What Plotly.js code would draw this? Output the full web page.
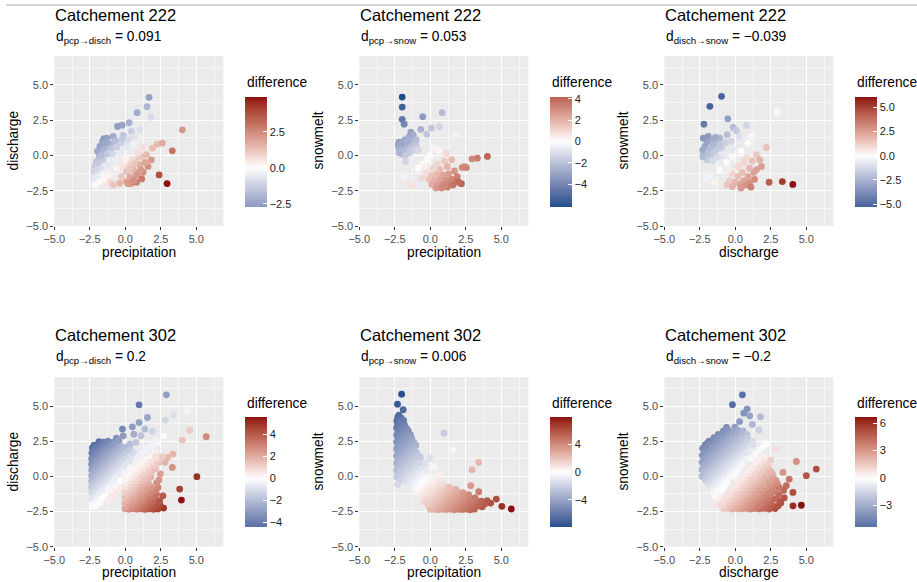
<!DOCTYPE html>
<html>
<head>
<meta charset="utf-8">
<script src="https://cdn.plot.ly/plotly-3.0.1.min.js"></script>
<style>
  html, body { margin: 0; padding: 0; background: #ffffff; }
  #chart { width: 917px; height: 582px; }
</style>
</head>
<body>
<div id="chart"></div>
<script>
// ---- Observations: [x, y] pairs per panel -------------------------------

// Catchment 222: precipitation (x) vs discharge (y)
const c222PcpDisch = [
  [1.67,4.12],[1.53,3.46],[0.83,3.03],[1.79,2.72],[0.27,2.32],[-0.22,2.15],[-0.55,2.06],[-0.15,1.42],
  [-0.85,1.35],[0.43,1.70],[1.02,1.82],[-1.5,1.2],[-1.3,1.23],[-1.6,0.99],[-0.67,1.04],[-1.04,0.80],
  [-1.79,0.64],[-1.44,0.52],[-1.67,0.28],[-1.84,-0.07],[-2.02,-0.43],[-2.14,-0.78],[-2.21,-1.14],
  [-2.26,-1.61],[-2.14,-2.09],[-1.79,-1.85],[-1.2,-1.38],[-1.09,-1.9],[-0.62,-0.9],[-0.85,-0.31],
  [-0.39,0.16],[0.08,0.64],[0.55,0.87],[-1.2,0.9],[-1.0,0.5],[-0.6,0.6],[-0.3,0.9],[-0.9,0.1],
  [-1.3,0.1],[-1.55,-0.3],[-1.75,-0.9],[-1.95,-1.4],[-1.6,-1.3],[-1.3,-0.7],[-0.7,-0.3],[-1.95,0.3],
  [-1.7,0.0],[-1.45,0.85],[-0.2,1.2],[0.6,1.35],[0.2,1.1],[-1.9,-0.5],[-1.5,-1.7],[-2.0,-1.0],
  [1.25,0.57],[1.91,0.52],[2.24,0.80],[2.61,0.87],[4.02,1.82],[3.31,0.33],[1.60,-0.78],[1.14,-0.07],
  [0.79,-0.31],[0.32,-0.55],[-0.15,-0.78],[0.08,-1.14],[0.55,-1.02],[1.02,-0.67],[1.25,-1.19],
  [0.79,-1.38],[0.32,-1.5],[0.08,-1.85],[0.43,-1.97],[0.79,-1.9],[1.16,-1.66],[2.38,-1.38],[2.94,-1.99],
  [-0.27,-1.5],[-0.39,-1.97],[-0.85,-2.09],[1.49,0.05],[1.84,-0.31],[0.2,-2.0],[0.6,-1.75],[0.95,-1.2],
  [0.5,-0.3],[0.9,0.2],[1.4,-0.5],[0.0,-0.3],[0.3,-0.9],[0.65,-0.6],[1.1,-1.0]
];

// Catchment 222: precipitation (x) vs snowmelt (y)
const c222PcpSnow = [
  [-1.98,4.14],[-1.98,3.43],[-1.98,2.56],[-1.84,2.22],[-0.53,2.75],[0.83,3.03],[-0.67,1.85],[0.08,1.94],
  [0.64,2.03],[-0.25,1.51],[-1.37,1.66],[-1.2,1.45],[-1.5,1.3],[-1.8,1.1],[-2.2,0.95],[-2.26,0.75],
  [-2.2,0.5],[-2.1,0.3],[-2.0,0.1],[-1.9,0.6],[-1.7,0.8],[-1.6,0.4],[-1.45,0.2],[-1.3,0.6],[-1.2,0.9],
  [-1.0,0.75],[-1.1,0.4],[-1.6,1.0],[-1.9,0.35],[-2.2,0.2],[-1.75,0.0],[-1.74,-0.43],[-2.05,0.85],
  [-1.45,1.2],[-1.0,1.1],[-0.85,0.4],
  [0.27,0.52],[1.14,0.16],[1.84,1.47],[-0.85,-0.9],[-1.86,-1.5],[-1.32,-2.09],[-0.5,-0.6],[0.0,0.0],
  [0.6,0.35],[-0.2,-0.3],[-1.2,-0.6],
  [4.02,-0.07],[3.31,-0.19],[2.94,-0.24],[2.54,-0.86],[2.24,-0.86],[2.4,-0.8],[1.5,-0.3],[1.0,-0.4],
  [0.5,-0.6],[0.2,-0.9],[0.7,-1.0],[1.2,-0.8],[1.7,-1.1],[-0.3,-1.2],[0.1,-1.4],[0.5,-1.3],[0.9,-1.4],
  [1.3,-1.3],[1.9,-1.5],[-0.1,-1.7],[0.3,-1.75],[0.7,-1.7],[1.1,-1.75],[1.5,-1.7],[1.85,-1.85],
  [2.19,-2.0],[0.1,-2.05],[0.5,-2.1],[0.9,-2.05],[1.3,-2.0],[1.6,-2.1],[0.4,-2.3],[0.8,-2.3],
  [1.2,-2.25],[-0.4,-0.8],[-0.6,-1.6],[2.0,-1.9],[1.0,-2.15]
];

// Catchment 222: discharge (x) vs snowmelt (y)
const c222DischSnow = [
  [-0.97,4.19],[-1.79,3.48],[-2.21,2.22],[-0.53,2.6],[2.94,3.08],[-0.15,1.99],[0.08,1.75],[0.78,2.13],
  [1.14,1.35],[-0.57,1.47],[-1.09,1.23],[-2.26,1.23],[-1.91,1.35],[-1.56,1.11],[-1.2,0.87],[-2.14,0.64],
  [-1.79,0.4],[-1.32,0.4],[-0.97,0.52],[-2.26,0.16],[-1.67,0.05],[-0.85,-0.07],[-2.0,0.95],[-1.6,0.75],
  [-1.4,1.3],[-2.3,0.4],[-1.9,0.1],[-1.5,0.2],[-1.1,0.7],[-0.7,0.9],[-1.25,-0.1],[-2.0,-0.3],
  [-1.6,-0.4],[-2.3,-0.1],[-0.3,1.0],[0.3,1.3],[-0.2,0.5],
  [0.9,0.87],[2.19,0.57],[1.49,0.05],[1.72,-0.31],[1.84,-0.78],[-2.02,-1.61],[-1.79,-1.38],
  [-1.09,-1.02],[-1.5,-1.9],[-0.6,-0.5],[-0.2,-0.1],[0.4,0.3],
  [2.38,-1.9],[3.31,-1.85],[4.05,-2.05],[1.3,-1.2],[1.0,-0.9],[0.6,-0.5],[0.2,-0.8],[0.5,-1.2],
  [0.9,-1.5],[1.35,-1.7],[-0.2,-1.3],[0.2,-1.5],[0.6,-1.8],[1.0,-1.95],[-0.4,-1.8],[0.0,-1.9],
  [0.35,-2.05],[0.75,-2.1],[-0.6,-2.1],[-0.2,-2.2],[1.2,-0.4],[0.8,-0.2],[1.5,-1.0],[-0.5,-1.0],
  [0.4,-2.3],[1.1,-2.25]
];

// Catchment 302: precipitation (x) vs discharge (y)
const c302PcpDisch = [
  [2.89,5.8],[0.97,5.09],[4.34,4.67],[3.41,4.38],[2.82,4.0],[1.56,4.19],[0.97,3.83],[0.5,3.53],
  [-0.2,3.37],[1.37,3.37],[4.53,3.29],[5.7,2.82],[4.02,2.58],[2.7,2.89],[3.36,1.59],[3.0,1.35],
  [3.31,0.64],[2.47,0.17],[5.04,-0.02],[3.83,-0.9],[3.95,-1.68],[2.7,-2.25],[2.65,-1.38],[2.3,-0.79],
  [2.37,-0.26],[-0.15,2.89],[-0.62,2.73],[0.32,2.3],[0.74,2.42],[1.1,2.9],[0.6,3.0],[1.9,3.2],
  [2.2,2.4],[2.1,1.7],[2.8,1.0],
  [-1.85,2.47],[-1.55,2.43],[-1.22,2.5],[-0.85,2.44],
  [-2.2,2.22],[-1.95,2.28],[-1.68,2.21],[-1.4,2.3],[-1.05,2.24],[-0.7,2.31],[-0.45,2.52],
  [-2.32,2.02],[-2.05,2.08],[-1.78,2.0],[-1.5,2.07],[-1.2,2.03],[-0.92,2.1],[-0.6,2.04],[-0.3,2.12],[0.05,2.08],
  [-2.18,1.83],[-1.9,1.88],[-1.62,1.82],[-1.33,1.9],[-1.05,1.84],[-0.75,1.87],[-0.45,1.8],[-0.15,1.9],[0.35,1.88],
  [-2.36,1.66],[-2.08,1.62],[-1.8,1.68],[-1.5,1.63],[-1.22,1.7],[-0.93,1.64],[-0.62,1.67],[-0.32,1.62],[0.05,1.7],[0.6,1.66],
  [-2.22,1.44],[-1.95,1.48],[-1.65,1.42],[-1.37,1.47],[-1.08,1.43],[-0.78,1.49],[-0.48,1.42],[-0.15,1.47],[0.3,1.44],[0.95,1.5],
  [-2.37,1.24],[-2.1,1.27],[-1.82,1.22],[-1.52,1.28],[-1.23,1.23],[-0.95,1.27],[-0.63,1.21],[-0.33,1.28],[0.0,1.22],[0.45,1.25],
  [-2.24,1.04],[-1.96,1.08],[-1.68,1.02],[-1.4,1.07],[-1.1,1.03],[-0.8,1.08],[-0.5,1.02],[-0.2,1.06],[0.2,1.04],[0.75,1.08],
  [-2.38,0.86],[-2.1,0.82],[-1.8,0.88],[-1.52,0.83],[-1.22,0.87],[-0.92,0.82],[-0.62,0.88],[-0.3,0.84],[0.1,0.86],
  [-2.25,0.64],[-1.96,0.68],[-1.66,0.62],[-1.37,0.67],[-1.06,0.63],[-0.76,0.68],[-0.45,0.62],[-0.12,0.66],[0.35,0.62],
  [-2.36,0.46],[-2.08,0.42],[-1.8,0.47],[-1.5,0.43],[-1.2,0.48],[-0.9,0.42],[-0.58,0.47],[-0.25,0.44],
  [-2.22,0.24],[-1.93,0.28],[-1.64,0.22],[-1.35,0.27],[-1.04,0.23],[-0.72,0.28],[-0.4,0.22],[-0.05,0.26],
  [-2.37,0.06],[-2.08,0.02],[-1.8,0.07],[-1.5,0.03],[-1.2,0.08],[-0.88,0.02],[-0.55,0.06],
  [-2.24,-0.14],[-1.95,-0.18],[-1.65,-0.12],[-1.36,-0.17],[-1.05,-0.13],[-0.72,-0.2],[-0.35,-0.3],
  [-2.37,-0.34],[-2.08,-0.38],[-1.8,-0.33],[-1.5,-0.37],[-1.2,-0.36],[-0.88,-0.42],
  [-2.25,-0.54],[-1.96,-0.58],[-1.66,-0.53],[-1.36,-0.6],[-1.05,-0.66],[-0.6,-0.72],
  [-2.38,-0.74],[-2.1,-0.78],[-1.8,-0.76],[-1.5,-0.82],[-1.2,-0.92],
  [-2.24,-0.96],[-1.95,-0.98],[-1.65,-1.04],[-0.9,-1.15],
  [-2.37,-1.14],[-2.08,-1.18],[-1.8,-1.24],[-1.45,-1.36],
  [-2.25,-1.38],[-1.95,-1.46],[-1.65,-1.58],
  [-2.36,-1.62],[-2.08,-1.72],[-1.8,-1.86],
  [-2.25,-1.92],[-2.0,-2.05],[-2.3,-2.15],
  [-1.2,-1.6],[-0.9,-1.4],[-0.6,-1.1],[-0.35,-0.8],
  [-0.02,-2.3],[0.27,-2.34],[0.55,-2.29],[0.83,-2.33],[1.12,-2.3],[1.4,-2.35],[1.7,-2.3],[1.98,-2.34],[2.3,-2.31],
  [0.12,-2.12],[0.4,-2.1],[0.68,-2.14],[0.97,-2.09],[1.25,-2.13],[1.55,-2.1],[1.83,-2.15],[2.12,-2.1],[2.45,-2.05],
  [-0.03,-1.93],[0.25,-1.9],[0.53,-1.95],[0.82,-1.91],[1.1,-1.94],[1.38,-1.89],[1.68,-1.93],[1.96,-1.9],[2.28,-1.95],
  [0.1,-1.72],[0.38,-1.7],[0.66,-1.74],[0.95,-1.69],[1.24,-1.73],[1.52,-1.7],[1.82,-1.74],[2.12,-1.68],[2.42,-1.75],
  [-0.02,-1.52],[0.26,-1.5],[0.55,-1.54],[0.83,-1.49],[1.12,-1.53],[1.4,-1.5],[1.7,-1.55],[2.0,-1.48],
  [0.12,-1.32],[0.4,-1.3],[0.68,-1.34],[0.97,-1.29],[1.26,-1.33],[1.55,-1.3],[1.86,-1.35],[2.2,-1.28],
  [-0.03,-1.12],[0.25,-1.1],[0.54,-1.14],[0.83,-1.09],[1.12,-1.13],[1.42,-1.1],[1.72,-1.15],[2.05,-1.08],
  [0.1,-0.92],[0.38,-0.9],[0.67,-0.94],[0.96,-0.89],[1.25,-0.93],[1.56,-0.9],[1.9,-0.95],
  [-0.02,-0.72],[0.27,-0.7],[0.55,-0.74],[0.85,-0.69],[1.14,-0.73],[1.45,-0.7],[1.78,-0.75],
  [0.12,-0.52],[0.4,-0.5],[0.7,-0.54],[1.0,-0.49],[1.3,-0.53],[1.62,-0.5],[2.2,-0.48],
  [-0.02,-0.32],[0.27,-0.3],[0.56,-0.34],[0.86,-0.29],[1.17,-0.33],[1.5,-0.28],
  [0.15,-0.12],[0.44,-0.1],[0.74,-0.14],[1.05,-0.09],[1.38,-0.12],[1.8,-0.05],
  [0.3,0.1],[0.6,0.06],[0.9,0.1],[1.22,0.07],[1.58,0.12],
  [0.48,0.32],[0.78,0.28],[1.1,0.33],[1.42,0.29],[1.85,0.35],
  [0.75,0.52],[1.05,0.5],[1.38,0.54],[1.72,0.48],[2.1,0.55],
  [0.98,0.74],[1.3,0.7],[1.65,0.76],[2.0,0.72],
  [1.25,0.96],[1.58,0.93],[1.95,1.0],[2.35,0.98],
  [1.5,1.22],[1.85,1.18],[2.25,1.25],
  [1.78,1.48],[2.15,1.42],[2.6,1.4],
  [1.2,1.62],[1.5,1.88],[1.8,2.15],[2.1,2.48],[0.85,1.3]
];

// Catchment 302: precipitation (x) vs snowmelt (y)
const c302PcpSnow = [
  [-2.02,5.85],[-2.31,5.14],[-1.91,4.74],[-2.21,4.36],[0.97,3.08],[1.6,1.89],[-0.67,1.35],[-0.03,1.28],
  [0.27,0.64],[3.41,0.99],[2.94,0.47],[2.84,-0.66],[3.41,-1.09],[4.65,-1.61],[5.04,-2.13],[5.70,-2.32],
  [4.25,-1.9],[3.83,-1.97],[-0.4,0.9],[0.6,0.1],
  [-2.3,4.22],[-2.05,4.15],
  [-2.36,3.95],[-2.12,3.9],[-1.88,3.98],
  [-2.3,3.7],[-2.06,3.74],[-1.82,3.67],
  [-2.37,3.45],[-2.14,3.42],[-1.9,3.48],[-1.66,3.4],
  [-2.28,3.2],[-2.04,3.24],[-1.8,3.17],[-1.55,3.22],
  [-2.36,2.95],[-2.12,2.92],[-1.88,2.98],[-1.64,2.92],[-1.4,2.97],
  [-2.28,2.7],[-2.04,2.74],[-1.8,2.67],[-1.56,2.72],[-1.3,2.68],
  [-2.37,2.45],[-2.13,2.42],[-1.89,2.48],[-1.65,2.43],[-1.4,2.47],[-1.15,2.41],
  [-2.28,2.2],[-2.04,2.23],[-1.8,2.18],[-1.55,2.22],[-1.3,2.17],[-1.02,2.22],
  [-2.37,1.95],[-2.12,1.92],[-1.88,1.97],[-1.63,1.93],[-1.38,1.98],[-1.12,1.92],
  [-2.28,1.7],[-2.03,1.73],[-1.78,1.68],[-1.53,1.72],[-1.28,1.67],[-1.0,1.71],
  [-2.37,1.45],[-2.12,1.42],[-1.86,1.47],[-1.62,1.43],[-1.36,1.48],[-1.1,1.42],[-0.82,1.47],
  [-2.28,1.2],[-2.03,1.23],[-1.78,1.18],[-1.52,1.22],[-1.26,1.17],[-0.98,1.22],
  [-2.37,0.95],[-2.12,0.92],[-1.86,0.97],[-1.6,0.93],[-1.34,0.98],[-1.08,0.92],[-0.78,0.96],
  [-2.28,0.7],[-2.02,0.73],[-1.76,0.68],[-1.5,0.72],[-1.22,0.67],[-0.94,0.72],
  [-2.37,0.45],[-2.1,0.42],[-1.83,0.47],[-1.56,0.43],[-1.28,0.48],[-1.0,0.42],[-0.68,0.47],
  [-2.28,0.2],[-2.0,0.23],[-1.72,0.18],[-1.44,0.22],[-1.15,0.17],[-0.85,0.22],[-0.5,0.18],
  [-2.36,-0.05],[-2.05,-0.08],[-1.75,-0.03],[-1.45,-0.07],[-1.15,-0.02],[-0.85,-0.07],[-0.52,-0.03],[-0.2,-0.08],
  [-2.2,-0.3],[-1.88,-0.27],[-1.56,-0.32],[-1.24,-0.28],[-0.92,-0.33],[-0.6,-0.28],[-0.28,-0.33],[0.05,-0.3],
  [-2.3,-0.58],[-1.4,-0.55],[-1.08,-0.58],[-0.76,-0.53],[-0.44,-0.57],[-0.12,-0.54],
  [-1.0,-0.8],[-0.66,-0.83],[-0.34,-0.79],[-0.02,-0.84],
  [-0.82,-1.05],[-0.5,-1.08],[-0.18,-1.03],
  [-0.65,-1.3],[-0.33,-1.34],
  [-0.55,-1.55],[-0.22,-1.58],
  [-0.4,-1.82],[-0.15,-2.05],
  [0.0,-2.35],[0.28,-2.33],[0.56,-2.37],[0.84,-2.34],[1.12,-2.36],[1.4,-2.33],[1.68,-2.37],[1.96,-2.34],[2.24,-2.36],[2.52,-2.33],[2.8,-2.37],[3.1,-2.33],
  [0.14,-2.15],[0.42,-2.13],[0.7,-2.17],[0.98,-2.14],[1.26,-2.16],[1.54,-2.13],[1.82,-2.17],[2.1,-2.14],[2.38,-2.16],[2.66,-2.13],[2.95,-2.17],[3.3,-2.12],[3.65,-2.16],
  [-0.08,-1.95],[0.2,-1.93],[0.48,-1.97],[0.76,-1.94],[1.04,-1.96],[1.32,-1.93],[1.6,-1.97],[1.88,-1.94],[2.16,-1.96],[2.44,-1.93],[2.72,-1.97],[3.02,-1.94],[3.4,-1.97],
  [0.05,-1.75],[0.33,-1.73],[0.61,-1.77],[0.89,-1.74],[1.17,-1.76],[1.45,-1.73],[1.73,-1.77],[2.01,-1.74],[2.3,-1.76],[2.6,-1.73],[2.9,-1.77],[3.25,-1.72],[3.62,-1.76],[4.0,-1.72],
  [-0.12,-1.55],[0.18,-1.53],[0.46,-1.57],[0.74,-1.54],[1.02,-1.56],[1.3,-1.53],[1.58,-1.57],[1.87,-1.54],[2.16,-1.56],[2.46,-1.53],[2.8,-1.57],[3.15,-1.52],
  [0.02,-1.35],[0.3,-1.33],[0.58,-1.37],[0.86,-1.34],[1.14,-1.36],[1.43,-1.33],[1.72,-1.37],[2.02,-1.34],[2.35,-1.36],[2.7,-1.3],
  [-0.2,-1.15],[0.15,-1.13],[0.43,-1.17],[0.71,-1.14],[1.0,-1.16],[1.3,-1.13],[1.6,-1.17],[1.92,-1.12],[2.3,-1.15],
  [0.3,-0.95],[0.58,-0.93],[0.86,-0.97],[1.15,-0.94],[1.46,-0.96],[1.8,-0.92],
  [0.16,-0.75],[0.44,-0.73],[0.72,-0.77],[1.02,-0.74],[1.35,-0.76],
  [0.2,-0.55],[0.48,-0.53],[0.78,-0.57],
  [0.3,-0.35],[0.6,-0.32]
];

// Catchment 302: discharge (x) vs snowmelt (y)
const c302DischSnow = [
  [0.5,5.8],[-0.2,5.1],[0.83,4.79],[1.02,4.31],[1.77,4.24],[0.6,4.5],[-0.62,3.48],[-0.03,3.5],
  [1.67,3.3],[0.3,3.9],[1.2,3.7],[-1.98,2.34],[-1.67,2.41],[-1.37,2.3],[2.84,1.94],[4.3,1.06],
  [5.7,0.52],[5.0,0.05],[4.06,-2.09],[4.65,-2.05],[3.36,0.28],[3.59,-0.66],[4.06,-1.14],[2.89,-1.61],
  [3.8,-0.2],[3.2,-1.9],
  [-0.85,3.22],[-0.5,3.28],[-0.15,3.2],[0.2,3.27],[0.55,3.22],
  [-1.2,2.98],[-0.88,3.03],[-0.55,2.97],[-0.22,3.02],[0.12,2.96],[0.45,3.03],[0.8,2.98],
  [-1.5,2.75],[-1.18,2.72],[-0.86,2.78],[-0.52,2.73],[-0.2,2.77],[0.14,2.72],[0.48,2.78],[0.85,2.74],
  [-1.85,2.5],[-1.52,2.53],[-1.2,2.48],[-0.88,2.52],[-0.55,2.47],[-0.22,2.53],[0.12,2.48],[0.46,2.52],[0.82,2.47],[1.2,2.5],
  [-2.12,2.25],[-1.8,2.22],[-1.48,2.27],[-1.15,2.23],[-0.83,2.28],[-0.5,2.22],[-0.17,2.27],[0.16,2.23],[0.5,2.28],[0.86,2.22],[1.25,2.26],
  [-2.3,2.0],[-1.98,2.03],[-1.66,1.98],[-1.34,2.02],[-1.02,1.97],[-0.7,2.03],[-0.37,1.98],[-0.04,2.02],[0.3,1.97],[0.64,2.03],[1.0,1.98],
  [-2.2,1.75],[-1.88,1.72],[-1.56,1.77],[-1.24,1.73],[-0.92,1.78],[-0.6,1.72],[-0.27,1.77],[0.06,1.73],[0.4,1.78],[0.76,1.72],[1.1,1.77],
  [-2.32,1.5],[-2.0,1.53],[-1.68,1.48],[-1.36,1.52],[-1.04,1.47],[-0.72,1.53],[-0.4,1.48],[-0.07,1.52],[0.27,1.47],[0.62,1.52],
  [-2.22,1.25],[-1.9,1.22],[-1.58,1.27],[-1.26,1.23],[-0.94,1.28],[-0.62,1.22],[-0.3,1.27],[0.04,1.23],[0.4,1.28],[0.75,1.24],
  [-2.34,1.0],[-2.02,1.03],[-1.7,0.98],[-1.38,1.02],[-1.06,0.97],[-0.74,1.03],[-0.42,0.98],[-0.1,1.02],[0.24,0.97],[0.56,1.02],
  [-2.22,0.75],[-1.9,0.72],[-1.58,0.77],[-1.26,0.73],[-0.94,0.78],[-0.62,0.72],[-0.3,0.77],[0.04,0.73],[0.38,0.78],
  [-2.34,0.5],[-2.02,0.53],[-1.7,0.48],[-1.38,0.52],[-1.06,0.47],[-0.74,0.53],[-0.42,0.48],[-0.1,0.52],[0.22,0.47],
  [-2.22,0.25],[-1.9,0.22],[-1.58,0.27],[-1.26,0.23],[-0.94,0.28],[-0.62,0.22],[-0.3,0.27],[0.0,0.22],
  [-2.34,0.0],[-2.02,0.03],[-1.7,-0.02],[-1.38,0.02],[-1.06,-0.03],[-0.74,0.03],[-0.42,-0.02],[-0.15,0.02],
  [-2.1,-0.25],[-1.78,-0.22],[-1.46,-0.27],[-1.14,-0.23],[-0.82,-0.28],[-0.5,-0.22],
  [-1.9,-0.5],[-1.58,-0.53],[-1.26,-0.48],[-0.94,-0.52],[-0.62,-0.47],
  [-1.75,-0.75],[-1.43,-0.72],[-1.11,-0.78],[-0.8,-0.74],
  [-1.6,-1.0],[-1.28,-1.03],[-0.96,-0.97],
  [-1.5,-1.25],[-1.16,-1.22],[-1.38,-1.5],[-1.05,-1.55],[-1.28,-1.75],[-1.2,-2.0],
  [1.45,1.62],[1.7,1.9],[2.0,2.15],[2.25,2.35],[1.1,1.3],
  [-0.85,-2.3],[-0.52,-2.28],[-0.2,-2.32],[0.12,-2.29],[0.44,-2.31],[0.76,-2.28],[1.08,-2.32],[1.4,-2.29],[1.72,-2.31],[2.05,-2.28],[2.4,-2.32],[2.8,-2.29],
  [-0.98,-2.07],[-0.66,-2.05],[-0.34,-2.09],[-0.02,-2.06],[0.3,-2.08],[0.62,-2.05],[0.94,-2.09],[1.26,-2.06],[1.58,-2.08],[1.9,-2.05],[2.22,-2.09],[2.6,-2.06],[3.0,-2.1],
  [-0.82,-1.82],[-0.5,-1.8],[-0.18,-1.84],[0.14,-1.81],[0.46,-1.83],[0.78,-1.8],[1.1,-1.84],[1.42,-1.81],[1.74,-1.83],[2.08,-1.8],[2.45,-1.84],[3.2,-1.8],
  [-0.66,-1.57],[-0.34,-1.55],[-0.02,-1.59],[0.3,-1.56],[0.62,-1.58],[0.94,-1.55],[1.26,-1.59],[1.58,-1.56],[1.92,-1.58],[2.3,-1.55],[2.75,-1.6],[3.45,-1.52],
  [-0.5,-1.32],[-0.18,-1.3],[0.14,-1.34],[0.46,-1.31],[0.78,-1.33],[1.1,-1.3],[1.42,-1.34],[1.75,-1.31],[2.1,-1.33],[2.5,-1.28],[3.05,-1.3],
  [-0.3,-1.07],[0.02,-1.05],[0.34,-1.09],[0.66,-1.06],[0.98,-1.08],[1.3,-1.05],[1.62,-1.09],[1.95,-1.06],[2.35,-1.08],[2.8,-1.03],[3.4,-1.0],
  [-0.12,-0.82],[0.2,-0.8],[0.52,-0.84],[0.84,-0.81],[1.16,-0.83],[1.48,-0.8],[1.82,-0.84],[2.2,-0.81],[2.65,-0.83],[3.1,-0.78],
  [0.08,-0.57],[0.4,-0.55],[0.72,-0.59],[1.04,-0.56],[1.36,-0.58],[1.7,-0.55],[2.06,-0.59],[2.5,-0.56],[2.95,-0.5],
  [0.28,-0.32],[0.6,-0.3],[0.92,-0.34],[1.24,-0.31],[1.58,-0.33],[1.95,-0.3],[2.4,-0.34],[2.85,-0.28],
  [0.5,-0.07],[0.82,-0.05],[1.14,-0.09],[1.46,-0.06],[1.82,-0.08],[2.25,-0.04],[2.7,-0.1],
  [0.75,0.18],[1.07,0.2],[1.4,0.16],[1.75,0.19],[2.15,0.17],[2.6,0.22],
  [0.98,0.43],[1.3,0.45],[1.64,0.41],[2.0,0.44],[2.45,0.4],
  [1.2,0.68],[1.52,0.7],[1.88,0.66],[2.3,0.72],
  [1.42,0.93],[1.76,0.95],[2.15,0.9],
  [1.68,1.18],[2.05,1.2],[2.5,1.15],[2.0,1.43]
];

// ---- Labels --------------------------------------------------------------
const catchments = ["222", "302"];
const pairLabels = ["pcp→disch", "pcp→snow", "disch→snow"];
const dValues222 = ["0.091", "0.053", "−0.039"];
const dValues302 = ["0.2", "0.006", "−0.2"];
const xTitles = ["precipitation", "precipitation", "discharge"];
const yTitles = ["discharge", "snowmelt", "snowmelt"];
const axisTickVals = [-5, -2.5, 0, 2.5, 5];
const axisTickText = ["−5.0", "−2.5", "0.0", "2.5", "5.0"];
const minorGridVals = [-3.75, -1.25, 1.25, 3.75, 6.25];

// colour-bar ticks, one list per panel (row-major)
const cbarTickVals = [
  [-2.5, 0, 2.5], [-4, -2, 0, 2, 4], [-5, -2.5, 0, 2.5, 5],
  [-4, -2, 0, 2, 4], [-4, 0, 4], [-3, 0, 3, 6]
];
const cbarTickText = [
  ["−2.5", "0.0", "2.5"], ["−4", "−2", "0", "2", "4"], ["−5.0", "−2.5", "0.0", "2.5", "5.0"],
  ["−4", "−2", "0", "2", "4"], ["−4", "0", "4"], ["−3", "0", "3", "6"]
];

// diverging palette ends
const lowColour = "#1F4E8C";
const midColour = "#FFFFFF";
const highColour = "#8E0F0F";

// ---- Lab colour interpolation (diverging gradient around 0) -------------
function hexToRgb(h) {
  const n = parseInt(h.slice(1), 16);
  return [(n >> 16) & 255, (n >> 8) & 255, n & 255];
}
function toLin(c) { c /= 255; return c <= 0.04045 ? c / 12.92 : Math.pow((c + 0.055) / 1.055, 2.4); }
function fromLin(c) {
  const v = c <= 0.0031308 ? 12.92 * c : 1.055 * Math.pow(c, 1 / 2.4) - 0.055;
  return Math.round(Math.max(0, Math.min(1, v)) * 255);
}
const WX = 0.95047, WY = 1.0, WZ = 1.08883;
function fLab(t) { return t > 0.008856 ? Math.cbrt(t) : 7.787 * t + 16 / 116; }
function fInv(t) { return t > 0.206893 ? t * t * t : (t - 16 / 116) / 7.787; }
function rgbToLab(rgb) {
  const [r, g, b] = rgb.map(toLin);
  const X = (0.4124564 * r + 0.3575761 * g + 0.1804375 * b) / WX;
  const Y = (0.2126729 * r + 0.7151522 * g + 0.0721750 * b) / WY;
  const Z = (0.0193339 * r + 0.1191920 * g + 0.9503041 * b) / WZ;
  const fx = fLab(X), fy = fLab(Y), fz = fLab(Z);
  return [116 * fy - 16, 500 * (fx - fy), 200 * (fy - fz)];
}
function labToRgb(lab) {
  const fy = (lab[0] + 16) / 116, fx = fy + lab[1] / 500, fz = fy - lab[2] / 200;
  const X = fInv(fx) * WX, Y = fInv(fy) * WY, Z = fInv(fz) * WZ;
  const r = 3.2404542 * X - 1.5371385 * Y - 0.4985314 * Z;
  const g = -0.9692660 * X + 1.8760108 * Y + 0.0415560 * Z;
  const b = 0.0556434 * X - 0.2040259 * Y + 1.0572252 * Z;
  return "rgb(" + fromLin(r) + "," + fromLin(g) + "," + fromLin(b) + ")";
}
const labLow = rgbToLab(hexToRgb(lowColour));
const labMid = rgbToLab(hexToRgb(midColour));
const labHigh = rgbToLab(hexToRgb(highColour));
function mixLab(a, b, t) { return [0, 1, 2].map(i => a[i] + (b[i] - a[i]) * t); }
function divergingColour(p) {
  return p < 0.5 ? labToRgb(mixLab(labLow, labMid, p / 0.5))
                 : labToRgb(mixLab(labMid, labHigh, (p - 0.5) / 0.5));
}
function colourscaleFor(lo, hi) {
  const M = Math.max(Math.abs(lo), Math.abs(hi));
  const steps = 30, out = [];
  for (let k = 0; k <= steps; k++) {
    const t = k / steps;
    const v = lo + t * (hi - lo);
    out.push([t, divergingColour(0.5 + v / (2 * M))]);
  }
  return out;
}

// ---- Build panels -------------------------------------------------------
const W = 917, H = 582;
const px = v => v / W;
const py = v => 1 - v / H;
const colOffsets = [0, 305, 610];
const rowOffsets = [0, 320];
const plotTop = [56, 377.3];       // panel top edge per row (px)
const plotBottom = [226, 546.7];   // panel bottom edge per row (px)
const FONT = "Liberation Sans, Arial, Helvetica, sans-serif";

const panels = [c222PcpDisch, c222PcpSnow, c222DischSnow, c302PcpDisch, c302PcpSnow, c302DischSnow];
const traces = [];
const layout = {
  width: W, height: H,
  margin: { l: 0, r: 0, t: 0, b: 0 },
  paper_bgcolor: "#ffffff",
  plot_bgcolor: "#EBEBEB",
  font: { family: FONT, color: "#000000" },
  showlegend: false,
  annotations: [],
  shapes: [{
    type: "line", xref: "paper", yref: "paper",
    x0: px(6), x1: 1, y0: py(5), y1: py(5),
    line: { color: "#d4d4d4", width: 2 }
  }]
};

panels.forEach((pts, i) => {
  const row = Math.floor(i / 3), col = i % 3;
  const ox = colOffsets[col], oy = rowOffsets[row];
  const n = i + 1;
  const xs = pts.map(p => p[0]);
  const ys = pts.map(p => p[1]);
  const diff = xs.map((x, k) => x - ys[k]);
  const lo = Math.min(...diff), hi = Math.max(...diff);
  const midY = (plotTop[row] + plotBottom[row]) / 2;

  traces.push({
    type: "scatter", mode: "markers",
    x: xs, y: ys,
    xaxis: "x" + n, yaxis: "y" + n,
    hoverinfo: "skip",
    marker: {
      size: 6.8,
      color: diff, cmin: lo, cmax: hi, cauto: false,
      colorscale: colourscaleFor(lo, hi),
      line: { width: 0 },
      showscale: true,
      colorbar: {
        x: px(ox + 245), xanchor: "left", xref: "paper",
        y: py(oy + 151.7), yanchor: "middle", yref: "paper",
        len: 110, lenmode: "pixels",
        thickness: 22, thicknessmode: "pixels",
        xpad: 0, ypad: 0, outlinewidth: 0, borderwidth: 0,
        tickmode: "array", tickvals: cbarTickVals[i], ticktext: cbarTickText[i],
        ticks: "inside", ticklen: 4, tickwidth: 1, tickcolor: "#ffffff",
        tickfont: { family: FONT, size: 11, color: "#1a1a1a" }
      }
    }
  });

  const axisCommon = {
    tickmode: "array", tickvals: axisTickVals, ticktext: axisTickText,
    ticks: "outside", ticklen: 3, tickwidth: 1, tickcolor: "#333333",
    tickfont: { family: FONT, size: 11, color: "#4D4D4D" },
    showgrid: true, gridcolor: "#ffffff", gridwidth: 1.1,
    minor: { tickmode: "array", tickvals: minorGridVals, showgrid: true,
             gridcolor: "#ffffff", gridwidth: 0.55, ticks: "" },
    zeroline: false, showline: false, fixedrange: true
  };
  layout["xaxis" + n] = Object.assign({}, axisCommon, {
    domain: [px(ox + 54.3), px(ox + 223.3)],
    range: [-5, 6.9], anchor: "y" + n
  });
  layout["yaxis" + n] = Object.assign({}, axisCommon, {
    domain: [py(plotBottom[row]), py(plotTop[row])],
    range: [-5, 7.05], anchor: "x" + n
  });

  const dVal = row === 0 ? dValues222[col] : dValues302[col];
  layout.annotations.push(
    { text: "Catchement " + catchments[row], xref: "paper", yref: "paper",
      x: px(ox + 53), y: py(oy + 15), xanchor: "left", yanchor: "middle",
      showarrow: false, font: { family: FONT, size: 16.5, color: "#000000" } },
    { text: "d<sub>" + pairLabels[col] + "</sub> = " + dVal, xref: "paper", yref: "paper",
      x: px(ox + 53.5), y: py(oy + 37), xanchor: "left", yanchor: "middle",
      showarrow: false, font: { family: FONT, size: 13.75, color: "#000000" } },
    { text: "difference", xref: "paper", yref: "paper",
      x: px(ox + 245), y: py(oy + 83), xanchor: "left", yanchor: "middle",
      showarrow: false, font: { family: FONT, size: 13.75, color: "#000000" } },
    { text: xTitles[col], xref: "paper", yref: "paper",
      x: px(ox + 138.8), y: py(oy + 252.5), xanchor: "center", yanchor: "middle",
      showarrow: false, font: { family: FONT, size: 13.75, color: "#000000" } },
    { text: yTitles[col], xref: "paper", yref: "paper", textangle: -90,
      x: px(ox + 12.5), y: py(midY), xanchor: "center", yanchor: "middle",
      showarrow: false, font: { family: FONT, size: 13.75, color: "#000000" } }
  );
});

Plotly.newPlot("chart", traces, layout, { displayModeBar: false, staticPlot: true });
</script>
</body>
</html>
